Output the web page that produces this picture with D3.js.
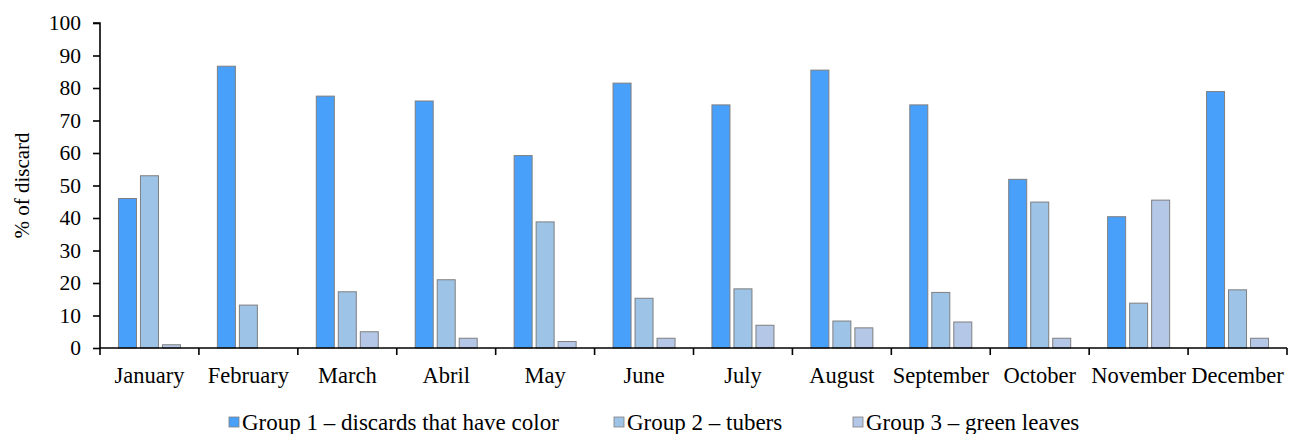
<!DOCTYPE html>
<html>
<head>
<meta charset="utf-8">
<script src="https://cdn.jsdelivr.net/npm/d3@7"></script>
<style>
  html, body { margin: 0; padding: 0; background: #fff; }
  svg { display: block; }
  text { font-family: "Liberation Serif", "Times New Roman", serif; fill: #000; }
</style>
</head>
<body>
<svg id="chart" width="1290" height="434"></svg>
<script>
const months = ["January","February","March","Abril","May","June","July","August","September","October","November","December"];
const seriesNames = ["Group 1 \u2013 discards that have color","Group 2 \u2013 tubers","Group 3 \u2013 green leaves"];
const group1 = [46, 86.7, 77.5, 76, 59.2, 81.5, 74.8, 85.5, 74.8, 51.9, 40.4, 78.9];
const group2 = [53, 13.2, 17.3, 21, 38.8, 15.3, 18.2, 8.3, 17.1, 44.9, 13.8, 17.9];
const group3 = [1, 0, 5, 3, 2, 3, 7, 6.2, 8, 3, 45.5, 3];
const yTicks = [0,10,20,30,40,50,60,70,80,90,100];
const colors = ["#48a0fb", "#9dc3e6", "#b4c7e7"];

const FONT = '"Liberation Serif", "Times New Roman", serif';
const svg = d3.select("#chart");
const margin = {left: 100, right: 3, top: 23, bottom: 86};
const W = 1290, H = 434;
const x0 = d3.scaleBand().domain(months).range([margin.left, W - margin.right]).paddingInner(0).paddingOuter(0);
const y = d3.scaleLinear().domain([0, 100]).range([H - margin.bottom, margin.top]);

const series = [group1, group2, group3];
const barW = 18, barStep = 22;
const groupWidth = 3 * barW + 2 * (barStep - barW);

const g = svg.append("g");
months.forEach((m, i) => {
  const bx = x0(m) + (x0.bandwidth() - groupWidth) / 2;
  series.forEach((s, j) => {
    const v = s[i];
    if (v <= 0) return;
    g.append("rect")
      .attr("x", bx + j * barStep)
      .attr("y", y(v))
      .attr("width", barW)
      .attr("height", y(0) - y(v))
      .attr("fill", colors[j])
      .attr("stroke", "#7f7f7f")
      .attr("stroke-width", 1);
  });
});

// y axis
const yAxis = d3.axisLeft(y).tickValues(yTicks).tickSize(7).tickPadding(12).tickFormat(d3.format("d"));
const ya = svg.append("g").attr("transform", `translate(${margin.left},0)`).call(yAxis);
ya.attr("font-family", null).attr("font-size", null);
ya.select(".domain").attr("stroke", "#000").attr("stroke-width", 1.6).attr("d", `M-7,${y(100)}H0V${y(0)}`);
ya.selectAll(".tick line").attr("stroke", "#000").attr("stroke-width", 1.6);
ya.selectAll("text").style("font-size", "21.5px").style("font-family", FONT).attr("fill", "#000");

// x axis
const xa = svg.append("g").attr("transform", `translate(0,${y(0)})`);
xa.append("line").attr("x1", margin.left).attr("x2", W - margin.right).attr("y1", 0).attr("y2", 0)
  .attr("stroke", "#000").attr("stroke-width", 1.6);
const boundaries = months.map(m => x0(m)).concat([x0(months[months.length-1]) + x0.bandwidth()]);
xa.selectAll("line.tk").data(boundaries).enter().append("line").attr("class","tk")
  .attr("x1", d => d).attr("x2", d => d).attr("y1", 0).attr("y2", 7)
  .attr("stroke", "#000").attr("stroke-width", 1.6);
xa.selectAll("text.ml").data(months).enter().append("text").attr("class","ml")
  .attr("x", d => x0(d) + x0.bandwidth() / 2)
  .attr("y", 35)
  .attr("text-anchor", "middle")
  .style("font-size", "22.5px").style("font-family", FONT)
  .text(d => d);

// y title
svg.append("text")
  .attr("transform", `translate(29,${(y(0)+y(100))/2}) rotate(-90)`)
  .attr("text-anchor", "middle")
  .style("font-size", "21px").style("font-family", FONT)
  .text("% of discard");

// legend
const legendX = [229, 614, 853];
const lg = svg.append("g");
seriesNames.forEach((n, j) => {
  lg.append("rect").attr("x", legendX[j]).attr("y", 417).attr("width", 10).attr("height", 10)
    .attr("fill", colors[j]).attr("stroke", "#7f7f7f").attr("stroke-width", 0.8);
  lg.append("text").attr("x", legendX[j] + 13).attr("y", 430)
    .style("font-size", "23px").style("font-family", FONT).text(n);
});
</script>
</body>
</html>
